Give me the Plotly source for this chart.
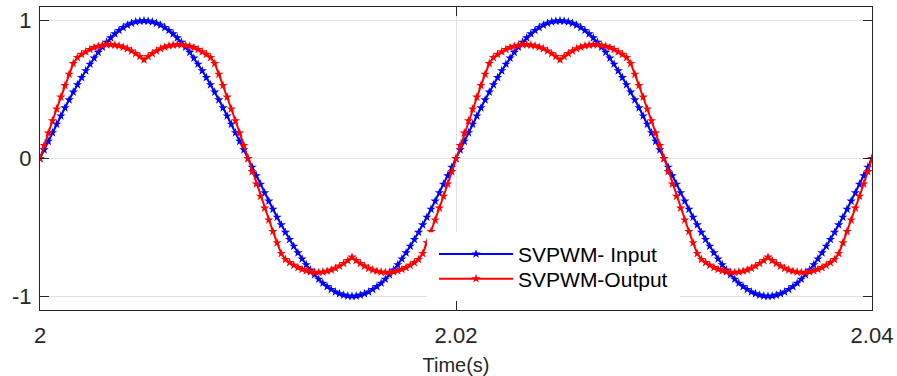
import numpy as np
import plotly.graph_objects as go

# sample times (s)
time_s = np.round(np.linspace(2.0, 2.04, 201), 5)

svpwm_input = [
    0.000, 0.063, 0.125, 0.187, 0.249, 0.309, 0.368, 0.426, 0.482, 0.536,
    0.588, 0.637, 0.685, 0.729, 0.771, 0.809, 0.844, 0.876, 0.905, 0.930,
    0.951, 0.969, 0.982, 0.992, 0.998, 1.000, 0.998, 0.992, 0.982, 0.969,
    0.951, 0.930, 0.905, 0.876, 0.844, 0.809, 0.771, 0.729, 0.685, 0.637,
    0.588, 0.536, 0.482, 0.426, 0.368, 0.309, 0.249, 0.187, 0.125, 0.063,
    0.000, -0.063, -0.125, -0.187, -0.249, -0.309, -0.368, -0.426, -0.482, -0.536,
    -0.588, -0.637, -0.685, -0.729, -0.771, -0.809, -0.844, -0.876, -0.905, -0.930,
    -0.951, -0.969, -0.982, -0.992, -0.998, -1.000, -0.998, -0.992, -0.982, -0.969,
    -0.951, -0.930, -0.905, -0.876, -0.844, -0.809, -0.771, -0.729, -0.685, -0.637,
    -0.588, -0.536, -0.482, -0.426, -0.368, -0.309, -0.249, -0.187, -0.125, -0.063,
    0.000, 0.063, 0.125, 0.187, 0.249, 0.309, 0.368, 0.426, 0.482, 0.536,
    0.588, 0.637, 0.685, 0.729, 0.771, 0.809, 0.844, 0.876, 0.905, 0.930,
    0.951, 0.969, 0.982, 0.992, 0.998, 1.000, 0.998, 0.992, 0.982, 0.969,
    0.951, 0.930, 0.905, 0.876, 0.844, 0.809, 0.771, 0.729, 0.685, 0.637,
    0.588, 0.536, 0.482, 0.426, 0.368, 0.309, 0.249, 0.187, 0.125, 0.063,
    0.000, -0.063, -0.125, -0.187, -0.249, -0.309, -0.368, -0.426, -0.482, -0.536,
    -0.588, -0.637, -0.685, -0.729, -0.771, -0.809, -0.844, -0.876, -0.905, -0.930,
    -0.951, -0.969, -0.982, -0.992, -0.998, -1.000, -0.998, -0.992, -0.982, -0.969,
    -0.951, -0.930, -0.905, -0.876, -0.844, -0.809, -0.771, -0.729, -0.685, -0.637,
    -0.588, -0.536, -0.482, -0.426, -0.368, -0.309, -0.249, -0.187, -0.125, -0.063,
    0.000,
]

svpwm_output = [
    0.000, 0.095, 0.185, 0.274, 0.360, 0.446, 0.530, 0.612, 0.690, 0.733,
    0.756, 0.775, 0.792, 0.805, 0.815, 0.823, 0.826, 0.827, 0.824, 0.818,
    0.809, 0.797, 0.781, 0.762, 0.741, 0.716, 0.741, 0.762, 0.781, 0.797,
    0.809, 0.818, 0.824, 0.827, 0.826, 0.823, 0.815, 0.805, 0.792, 0.775,
    0.756, 0.733, 0.690, 0.612, 0.530, 0.446, 0.360, 0.274, 0.185, 0.095,
    0.000, -0.095, -0.185, -0.274, -0.360, -0.446, -0.530, -0.612, -0.690, -0.733,
    -0.756, -0.775, -0.792, -0.805, -0.815, -0.823, -0.826, -0.827, -0.824, -0.818,
    -0.809, -0.797, -0.781, -0.762, -0.741, -0.716, -0.741, -0.762, -0.781, -0.797,
    -0.809, -0.818, -0.824, -0.827, -0.826, -0.823, -0.815, -0.805, -0.792, -0.775,
    -0.756, -0.733, -0.690, -0.612, -0.530, -0.446, -0.360, -0.274, -0.185, -0.095,
    0.000, 0.095, 0.185, 0.274, 0.360, 0.446, 0.530, 0.612, 0.690, 0.733,
    0.756, 0.775, 0.792, 0.805, 0.815, 0.823, 0.826, 0.827, 0.824, 0.818,
    0.809, 0.797, 0.781, 0.762, 0.741, 0.716, 0.741, 0.762, 0.781, 0.797,
    0.809, 0.818, 0.824, 0.827, 0.826, 0.823, 0.815, 0.805, 0.792, 0.775,
    0.756, 0.733, 0.690, 0.612, 0.530, 0.446, 0.360, 0.274, 0.185, 0.095,
    0.000, -0.095, -0.185, -0.274, -0.360, -0.446, -0.530, -0.612, -0.690, -0.733,
    -0.756, -0.775, -0.792, -0.805, -0.815, -0.823, -0.826, -0.827, -0.824, -0.818,
    -0.809, -0.797, -0.781, -0.762, -0.741, -0.716, -0.741, -0.762, -0.781, -0.797,
    -0.809, -0.818, -0.824, -0.827, -0.826, -0.823, -0.815, -0.805, -0.792, -0.775,
    -0.756, -0.733, -0.690, -0.612, -0.530, -0.446, -0.360, -0.274, -0.185, -0.095,
    0.000,
]

x_tick_vals = [2.0, 2.02, 2.04]
x_tick_text = ["2", "2.02", "2.04"]
y_tick_vals = [-1, 0, 1]
y_tick_text = ["-1", "0", "1"]

FONT = "Liberation Sans, Arial, sans-serif"
AX = "#262626"

fig = go.Figure()
fig.add_trace(go.Scatter(
    x=time_s, y=svpwm_input, mode="lines+markers", name="SVPWM- Input",
    line=dict(color="#0000ff", width=2),
    marker=dict(symbol="star", size=7, color="#0000ff"),
    legend="legend", showlegend=True,
))
fig.add_trace(go.Scatter(
    x=time_s, y=svpwm_output, mode="lines+markers", name="SVPWM-Output",
    line=dict(color="#ff0000", width=2),
    marker=dict(symbol="star", size=7, color="#ff0000"),
    legend="legend2", showlegend=True,
))

leg_common = dict(
    x=0.4736, xanchor="left", yanchor="middle",
    bgcolor="rgba(255,255,255,0)", borderwidth=0,
    font=dict(family=FONT, size=21, color="#000000"),
    itemwidth=74,
)

fig.update_layout(
    width=897, height=376,
    margin=dict(l=40, r=25, t=7, b=66),
    paper_bgcolor="white", plot_bgcolor="white",
    font=dict(family=FONT, size=22, color=AX),
    showlegend=True,
    legend=dict(y=0.184, **leg_common),
    legend2=dict(y=0.1023, **leg_common),
    shapes=[dict(type="rect", xref="paper", yref="paper",
                 x0=0.4651, x1=0.769, y0=0.03, y1=0.257,
                 fillcolor="white", line=dict(width=0), layer="above")],
)
fig.update_xaxes(
    range=[2.0, 2.04], tickvals=x_tick_vals, ticktext=x_tick_text,
    showline=True, linecolor=AX, linewidth=1, mirror="ticks",
    ticks="inside", ticklen=9, tickcolor=AX, tickwidth=1,
    showgrid=True, gridcolor="#e3e3e3", gridwidth=1, zeroline=False,
    ticklabelstandoff=6, automargin=False,
    title=dict(text="Time(s)", font=dict(size=20, color=AX), standoff=11),
)
fig.update_yaxes(
    range=[-1.1, 1.1], tickvals=y_tick_vals, ticktext=y_tick_text,
    showline=True, linecolor=AX, linewidth=1, mirror="ticks",
    ticks="inside", ticklen=9, tickcolor=AX, tickwidth=1,
    showgrid=True, gridcolor="#e3e3e3", gridwidth=1, zeroline=False,
    ticklabelstandoff=3, automargin=False,
)

fig.write_html("out.html")
